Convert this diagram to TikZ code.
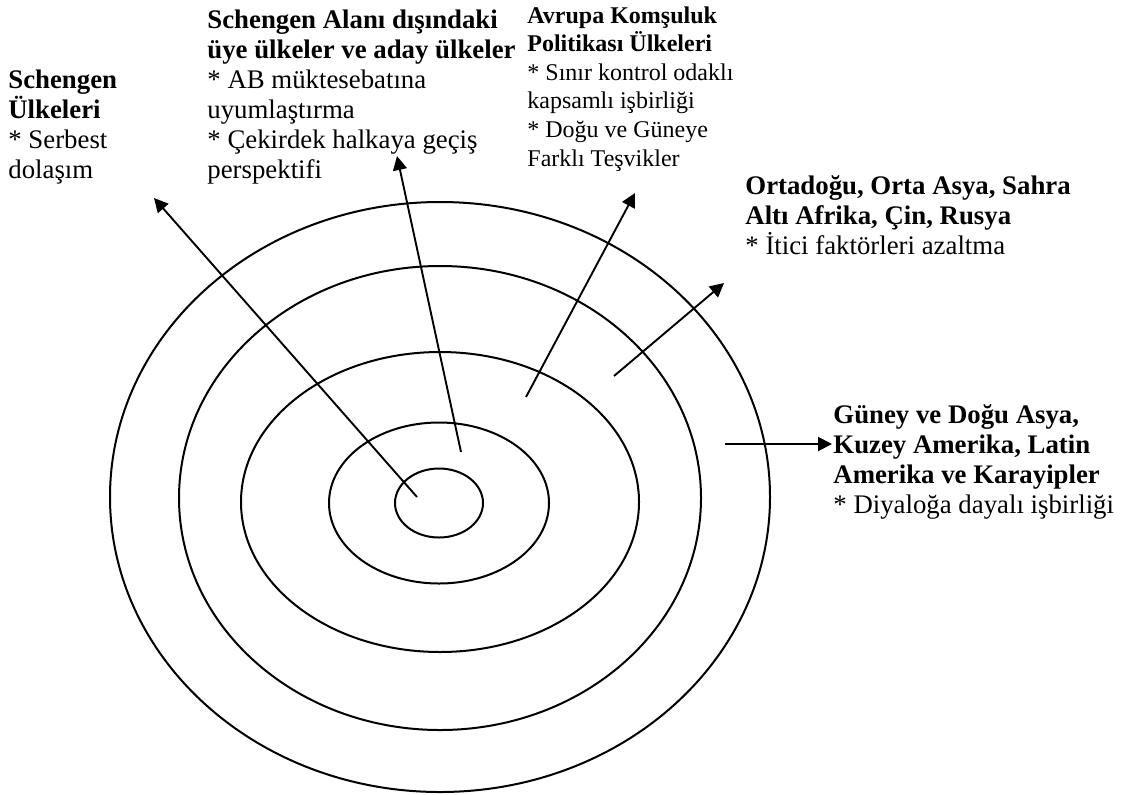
\documentclass[tikz,border=0pt]{standalone}
\usepackage{fontspec}
\setmainfont{Liberation Serif}
\usetikzlibrary{arrows.meta}
\tikzstyle{ring}      = [draw=black, line width=1pt]
\tikzstyle{spoke}     = [-{Triangle[length=7pt, width=7pt]}, line width=0.95pt]
\tikzstyle{zone}      = [anchor=base west, inner sep=0pt, align=left,
                         font=\fontsize{13.4pt}{15pt}\selectfont]
\tikzstyle{smallzone} = [zone, font=\fontsize{12pt}{14.3pt}\selectfont]

\begin{document}
\begin{tikzpicture}[x=0.5pt, y=-0.5pt]
  \useasboundingbox (0,0) rectangle (1134,794);

  % rings, inner to outer
  \draw [ring] (439,503) ellipse [x radius=22pt,   y radius=17.25pt];
  \draw [ring] (439,503) ellipse [x radius=55pt,   y radius=40.25pt];
  \draw [ring] (440,502) ellipse [x radius=99.5pt, y radius=75pt];
  \draw [ring] (440,498) ellipse [x radius=130.5pt, y radius=116pt];
  \draw [ring] (440,497) ellipse [x radius=165pt,  y radius=147.5pt];

  % texts (anchored at the baseline of their last line)
  \node (schengen)   [zone] at (8,178)
        {\textbf{Schengen}\\\textbf{Ülkeleri}\\* Serbest\\dolaşım};
  \node (candidates) [zone] at (207,178)
        {\textbf{Schengen Alanı dışındaki}\\\textbf{üye ülkeler ve aday ülkeler}\\* AB müktesebatına\\uyumlaştırma\\* Çekirdek halkaya geçiş\\perspektifi};
  \node (enp)        [smallzone] at (527,166)
        {\textbf{Avrupa Komşuluk}\\\textbf{Politikası Ülkeleri}\\* Sınır kontrol odaklı\\kapsamlı işbirliği\\* Doğu ve Güneye\\Farklı Teşvikler};
  \node (periphery)  [zone] at (745,254)
        {\textbf{Ortadoğu, Orta Asya, Sahra}\\\textbf{Altı Afrika, Çin, Rusya}\\* İtici faktörleri azaltma};
  \node (distant)    [zone] at (833,513)
        {\textbf{Güney ve Doğu Asya,}\\\textbf{Kuzey Amerika, Latin}\\\textbf{Amerika ve Karayipler}\\* Diyaloğa dayalı işbirliği};

  % arrow ends
  \coordinate (from1) at (417,497);  \coordinate (to1) at (154,198);
  \coordinate (from2) at (461,452);  \coordinate (to2) at (397,156);
  \coordinate (from3) at (526,397);  \coordinate (to3) at (635,193);
  \coordinate (from4) at (614,376);  \coordinate (to4) at (724,283);
  \coordinate (from5) at (725,444);  \coordinate (to5) at (832,444);

  \draw [spoke] (from1) -- (to1);
  \draw [spoke] (from2) -- (to2);
  \draw [spoke] (from3) -- (to3);
  \draw [spoke] (from4) -- (to4);
  \draw [spoke] (from5) -- (to5);
\end{tikzpicture}
\end{document}
